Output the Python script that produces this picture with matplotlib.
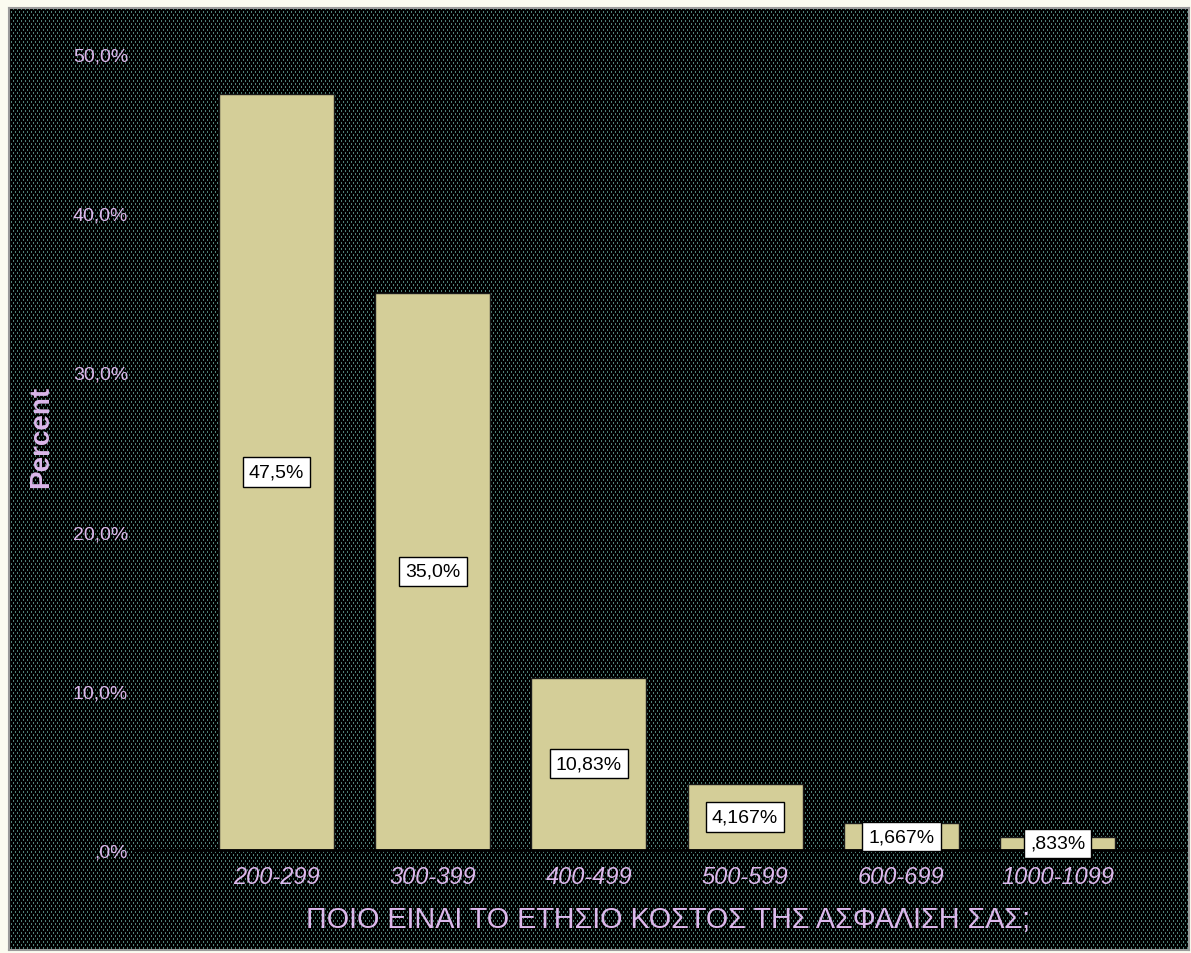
import numpy as np
import matplotlib
matplotlib.use("Agg")
import matplotlib.pyplot as plt

# Annual insurance cost brackets and their share of respondents
categories = ["200-299", "300-399", "400-499", "500-599", "600-699", "1000-1099"]
bar_labels = ["47,5%", "35,0%", "10,83%", "4,167%", "1,667%", ",833%"]
percents = [float(s.rstrip("%").replace(",", ".")) for s in bar_labels]

y_ticks = [0, 10, 20, 30, 40, 50]
y_tick_labels = [",0%", "10,0%", "20,0%", "30,0%", "40,0%", "50,0%"]

xlabel = "ΠΟΙΟ ΕΙΝΑΙ ΤΟ ΕΤΗΣΙΟ ΚΟΣΤΟΣ ΤΗΣ ΑΣΦΑΛΙΣΗ ΣΑΣ;"
ylabel = "Percent"

text_col = "#dcb8ec"
bar_col = "#d4ce98"

plt.rcParams["font.family"] = ["Liberation Sans", "DejaVu Sans"]

W, H = 1191, 954
fig = plt.figure(figsize=(W / 100, H / 100), dpi=100)
fig.patch.set_facecolor("#fbfbf0")

# dotted dark backdrop behind the chart
bg_w, bg_h = 1180, 942
tile = np.zeros((6, 4, 3))
teal = np.array([0.31, 0.50, 0.47])
tile[0:2, 0] = teal
tile[3:5, 2] = teal
pattern = np.tile(tile, (bg_h // 6 + 1, bg_w // 4 + 1, 1))[:bg_h, :bg_w]
bg = fig.add_axes([9 / W, 3 / H, bg_w / W, bg_h / H], zorder=0)
bg.imshow(pattern, interpolation="nearest", aspect="auto")
bg.set_xticks([])
bg.set_yticks([])
for s in bg.spines.values():
    s.set_color("#9a9a9a")
    s.set_linewidth(1.5)

# main chart
ax = fig.add_axes([135 / W, (H - 851) / H, (1186 - 135) / W, (851 - 23) / H], zorder=1)
ax.set_facecolor("none")
x = np.arange(len(categories))
ax.bar(x, percents, width=0.736, color=bar_col, edgecolor="#1a1a1a", linewidth=1, zorder=2)

for xi, v, lab in zip(x, percents, bar_labels):
    ax.text(xi, v / 2, lab, ha="center", va="center", fontsize=14, color="black", zorder=4,
            bbox=dict(boxstyle="square,pad=0.32", facecolor="white", edgecolor="black", linewidth=1))

ax.set_xlim(-0.906, 5.823)
ax.set_ylim(0, 52)
ax.set_yticks(y_ticks)
ax.set_yticklabels(y_tick_labels)
ax.set_xticks(x)
ax.set_xticklabels(categories, fontstyle="italic")
ax.tick_params(axis="y", length=0, pad=5, labelsize=14, labelcolor=text_col)
ax.tick_params(axis="x", length=0, pad=11, labelsize=17, labelcolor=text_col)

for side in ["top", "right", "left"]:
    ax.spines[side].set_visible(False)
ax.spines["bottom"].set_color("black")
ax.spines["bottom"].set_linewidth(2)

ax.set_xlabel(xlabel, fontsize=20.7, color=text_col)
ax.xaxis.set_label_coords(0.507, -0.083)
ax.xaxis.label.set_verticalalignment("center")
ax.set_ylabel(ylabel, fontsize=20, fontweight="bold", color=text_col)
ax.yaxis.set_label_coords(-0.089, 0.5)
ax.yaxis.label.set_verticalalignment("center")

fig.savefig("out.png", dpi=100, facecolor=fig.get_facecolor())
